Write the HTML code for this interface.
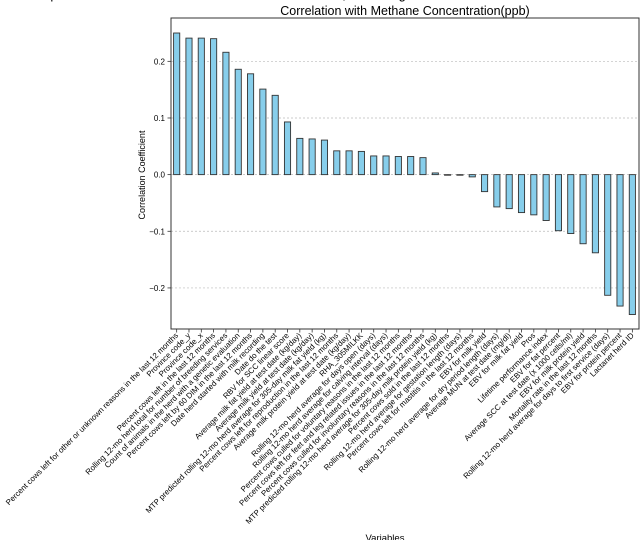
<!DOCTYPE html>
<html><head><meta charset="utf-8"><style>
html,body{margin:0;padding:0;background:#fff;overflow:hidden;}
svg{display:block;font-family:"Liberation Sans","DejaVu Sans",sans-serif;}
</style></head><body>
<svg id="chart" width="640" height="540" viewBox="0 0 640 540" xmlns="http://www.w3.org/2000/svg">
<text x="300" y="-1" font-size="13" text-anchor="middle" fill="#000">Top Correlated Features with Methane Concentration, Excluding Methane Related Columns</text>
<text x="405" y="15" font-size="12.5" text-anchor="middle" fill="#000">Correlation with Methane Concentration(ppb)</text>
<text transform="translate(145,175) rotate(-90)" font-size="9" text-anchor="middle" fill="#000">Correlation Coefficient</text>
<text x="385" y="541" font-size="9.5" text-anchor="middle" fill="#000">Variables</text>
<g id="grid"></g><g id="bars"></g><g id="ticks"></g>
<rect x="171" y="18" width="468" height="311" fill="none" stroke="#333" stroke-width="1"/>
</svg>
<script>
const categories = ["Percent cows left for other or unknown reasons in the last 12 months","Province code_y","Province code_x","Percent cows left in the last 12 months","Rolling 12-mo herd total for number of breeding services","Count of animals in the herd with a genetic evaluation","Percent cows left by 60 DIM in the last 12 months","Date herd started with milk recording","Date do the test","RBV for SCC linear score","Average milk fat yield at test date (kg/day)","Average milk yield at test date (kg/day)","MTP predicted rolling 12-mo herd average for 305-day milk fat yield (kg)","Percent cows left for reproduction in the last 12 months","Average milk protein yield at test date (kg/day)","RHA_305MILKK","Rolling 12-mo herd average for days open (days)","Rolling 12-mo herd average for calving interval (days)","Percent cows culled for voluntary reasons in the last 12 months","Percent cows left for feet and leg related issues in the last 12 months","Percent cows culled for involuntary reasons in the last 12 months","MTP predicted rolling 12-mo herd average for 305-day milk protein yield (kg)","Percent cows sold in the last 12 months","Rolling 12-mo herd average for gestation length (days)","Percent cows left for mastitis in the last 12 months","EBV for milk yield","Rolling 12-mo herd average for dry period length (days)","Average MUN at test date (mg/dl)","EBV for milk fat yield","Pros","Lifetime performance index","EBV for fat percent","Average SCC at test date (x 1000 cells/ml)","EBV for milk protein yield","Mortality rate in the last 12 months","Rolling 12-mo herd average for days to first service (days)","EBV for protein percent","Lactanet herd ID"];
const values = [0.250,0.241,0.241,0.240,0.216,0.186,0.178,0.151,0.140,0.093,0.064,0.063,0.061,0.042,0.042,0.041,0.033,0.033,0.032,0.032,0.030,0.003,-0.001,-0.001,-0.004,-0.030,-0.057,-0.060,-0.067,-0.071,-0.081,-0.099,-0.104,-0.122,-0.138,-0.213,-0.232,-0.247];
const yTicks = [-0.2,-0.1,0.0,0.1,0.2];
const yTickLabels = ["\u22120.2","\u22120.1","0.0","0.1","0.2"];

(function(){
const NS="http://www.w3.org/2000/svg";
const pLeft=171,pRight=639,pTop=18,pBottom=329,yMin=-0.2725,yMax=0.2765;
const step=(pRight-pLeft)/categories.length;
function xPos(i){return pLeft+step*(i+0.46);}
function yPos(v){return pBottom-(v-yMin)/(yMax-yMin)*(pBottom-pTop);}
function mk(tag,attrs,parent){const e=document.createElementNS(NS,tag);for(const k in attrs)e.setAttribute(k,attrs[k]);parent.appendChild(e);return e;}
const grid=document.getElementById('grid'),bars=document.getElementById('bars'),ticks=document.getElementById('ticks');
yTicks.forEach((t,i)=>{
  const y=yPos(t);
  const g=mk('line',{x1:pLeft,x2:pRight,y1:y,y2:y,stroke:'#bbb','stroke-width':0.7,'stroke-dasharray':'2,2'},grid);
  
  
  const tk=mk('line',{x1:pLeft-3.5,x2:pLeft,y1:y,y2:y,stroke:'#333','stroke-width':0.8},ticks);
  
  
  const tl=mk('text',{x:pLeft-6,y:y+3,'font-size':8,'text-anchor':'end',fill:'#000'},ticks);
  tl.textContent=yTickLabels[i];
  
  
});
const bw=step*0.5;
values.forEach((v,i)=>{
  const x=xPos(i),y0=yPos(0),y1=yPos(v);
  const r=mk('rect',{x:x-bw/2,y:Math.min(y0,y1),width:bw,height:Math.max(Math.abs(y1-y0),0.6),fill:'#87ceeb',stroke:'#333','stroke-width':0.9},bars);
  
  
  const tk=mk('line',{x1:x,x2:x,y1:pBottom,y2:pBottom+3.5,stroke:'#333','stroke-width':0.8},ticks);
  
  
  const tl=mk('text',{transform:`translate(${x+2},${pBottom+7}) rotate(-45)`,'font-size':7.9,'text-anchor':'end',fill:'#000'},ticks);
  tl.textContent=categories[i];
  
  
});
})();
</script>
</body></html>
